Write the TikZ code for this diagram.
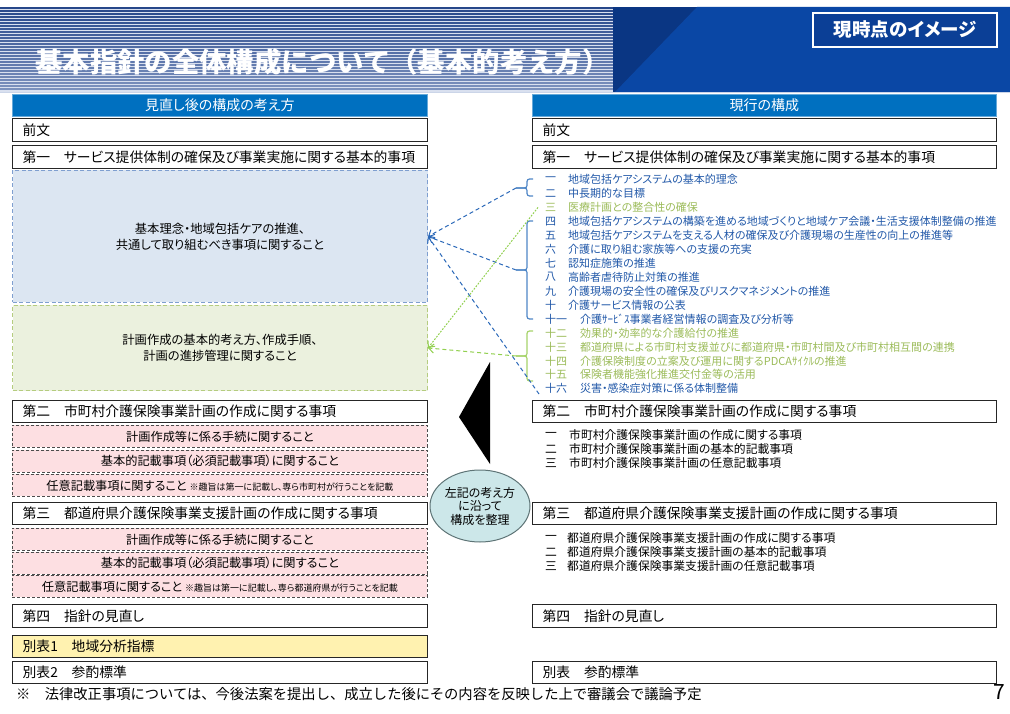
\documentclass[tikz,border=0pt]{standalone}
\usepackage{fontspec}
\setmainfont{Noto Sans CJK JP}[RawFeature=+palt]
\newfontfamily\plainjp{Noto Sans CJK JP}
\usetikzlibrary{arrows.meta,shapes.geometric}
\definecolor{hdrblue}{HTML}{0070C0}
\definecolor{stripedark}{HTML}{27478A}
\definecolor{stripelight}{HTML}{A9B9D9}
\definecolor{stripebg}{HTML}{D9E0EF}
\definecolor{navyA}{HTML}{0A3683}
\definecolor{navyB}{HTML}{0A47A5}
\definecolor{nowbox}{HTML}{0B3F96}
\definecolor{itemblue}{HTML}{2158A8}
\definecolor{itemgreen}{HTML}{9BBB59}
\definecolor{brkblue}{HTML}{4F86C6}
\definecolor{brkgreen}{HTML}{A6D36A}
\definecolor{conblue}{HTML}{2A68B8}
\definecolor{congreen}{HTML}{92D050}
\definecolor{bluefill}{HTML}{DCE6F2}
\definecolor{blueedge}{HTML}{7F9FD0}
\definecolor{greenfill}{HTML}{EBF1DE}
\definecolor{greenedge}{HTML}{B5CC7F}
\definecolor{pinkfill}{HTML}{FDDFE2}
\definecolor{yellowfill}{HTML}{FFF2B0}
\definecolor{ellfill}{HTML}{CCE7E9}
\definecolor{elledge}{HTML}{5E7476}
\newcommand\fsz[2]{\fontsize{#1}{#2}\selectfont}
\begin{document}
\begin{tikzpicture}[x=1pt,y=-1pt,
  colhdr/.style={fill=hdrblue, draw=hdrblue!60!white, line width=0.6pt, text=white, minimum height=22, inner sep=0, anchor=north west, font=\fsz{14}{15}},
  boxL/.style={draw=black!85, line width=1.3pt, fill=white, anchor=north west, minimum height=23, inner xsep=10, inner ysep=0, text width=395pt, align=left, font=\fsz{13.8}{15}},
  boxR/.style={boxL, text width=444pt},
  pinkbox/.style={draw=black!70, line width=0.9pt, dash pattern=on 3pt off 2pt, fill=pinkfill, anchor=north west, minimum width=415, minimum height=22, inner sep=0, font=\fsz{12.2}{13}},
  bluebox/.style={draw=blueedge, line width=1pt, dash pattern=on 4pt off 2.5pt, fill=bluefill, anchor=north west, minimum width=415, inner sep=0, align=center, font=\fsz{12.3}{16}},
  greenbox/.style={bluebox, draw=greenedge, fill=greenfill},
  numnode/.style={anchor=west, inner sep=0, font=\fsz{11}{12}},
  itemnode/.style={anchor=west, inner sep=0, font=\fsz{11}{12}},
  subnode/.style={anchor=west, inner sep=0, font=\fsz{11.8}{12}},
  bbrk/.style={draw=brkblue, line width=1.2pt, rounded corners=2.5pt},
  gbrk/.style={draw=brkgreen, line width=1.2pt, rounded corners=2.5pt},
  bcon/.style={draw=conblue, line width=1pt, dash pattern=on 4pt off 3pt, -{Straight Barb[length=5pt,width=9pt]}},
  gcon/.style={draw=congreen, line width=1pt, dash pattern=on 4pt off 3pt, -{Straight Barb[length=5pt,width=9pt]}},
  gdot/.style={draw=congreen, line width=1pt, dash pattern=on 1.8pt off 1.4pt, -{Straight Barb[length=5pt,width=9pt]}}
]
\useasboundingbox (0,0) rectangle (1010,714);
% ---------- header banner ----------
\fill[stripebg] (0,7) rectangle (613,92);
\foreach \i in {0,...,27}{
  \pgfmathtruncatemacro{\p}{100-2.4*\i}
  \fill[stripedark!\p!stripelight] (0,7+3*\i) rectangle (613,8.7+3*\i);
}
\fill[navyA] (613,7) rectangle (1010,92);
\fill[navyB] (697,7) -- (1010,7) -- (1010,92) -- (615,92) -- cycle;
\fill[stripelight!60!white] (0,92) rectangle (1010,93.5);
\node[anchor=west, text=white, inner sep=0, font=\plainjp\bfseries\fsz{27.4}{30}] (title) at (35,62) {基本指針の全体構成について（基本的考え方）};
\node[draw=white, line width=1.2pt, fill=nowbox, text=white, minimum width=184, minimum height=34, inner sep=0, font=\bfseries\fsz{18.5}{20}] (now) at (905,30) {現時点のイメージ};
% ---------- column headers ----------
\node[colhdr, minimum width=415] (lhdr) at (12,94) {見直し後の構成の考え方};
\node[colhdr, minimum width=464] (rhdr) at (532,94) {現行の構成};
% ---------- left column ----------
\node[boxL] (lpre) at (12,118) {前文};
\node[boxL] (l1) at (12,145) {第一　サービス提供体制の確保及び事業実施に関する基本的事項};
\node[bluebox, minimum height=132] (lblue) at (12,170) {基本理念・地域包括ケアの推進、\\共通して取り組むべき事項に関すること};
\node[greenbox, minimum height=85] (lgreen) at (12,305) {計画作成の基本的考え方、作成手順、\\計画の進捗管理に関すること};
\node[boxL, minimum height=22] (l2) at (12,400) {第二　市町村介護保険事業計画の作成に関する事項};
\node[pinkbox] (p1) at (12,425) {計画作成等に係る手続に関すること};
\node[pinkbox] (p2) at (12,449.5) {基本的記載事項（必須記載事項）に関すること};
\node[pinkbox] (p3) at (12,474) {任意記載事項に関すること {\fsz{9}{10}※趣旨は第一に記載し、専ら市町村が行うことを記載}};
\node[boxL, minimum height=22] (l3) at (12,502) {第三　都道府県介護保険事業支援計画の作成に関する事項};
\node[pinkbox] (p4) at (12,528) {計画作成等に係る手続に関すること};
\node[pinkbox] (p5) at (12,551.5) {基本的記載事項（必須記載事項）に関すること};
\node[pinkbox] (p6) at (12,575) {任意記載事項に関すること {\fsz{9}{10}※趣旨は第一に記載し、専ら都道府県が行うことを記載}};
\node[boxL] (l4) at (12,604) {第四　指針の見直し};
\node[boxL, fill=yellowfill, minimum height=22] (lb1) at (12,634.5) {別表1　地域分析指標};
\node[boxL, minimum height=22] (lb2) at (12,660.5) {別表2　参酌標準};
% ---------- right column ----------
\node[boxR] (rpre) at (532,118) {前文};
\node[boxR] (r1) at (532,145) {第一　サービス提供体制の確保及び事業実施に関する基本的事項};
\foreach \i/\num/\tx/\col/\txt in {
 1/一/568/itemblue/地域包括ケアシステムの基本的理念,
 2/二/568/itemblue/中長期的な目標,
 3/三/568/itemgreen/医療計画との整合性の確保,
 4/四/568/itemblue/地域包括ケアシステムの構築を進める地域づくりと地域ケア会議・生活支援体制整備の推進,
 5/五/568/itemblue/地域包括ケアシステムを支える人材の確保及び介護現場の生産性の向上の推進等,
 6/六/568/itemblue/介護に取り組む家族等への支援の充実,
 7/七/568/itemblue/認知症施策の推進,
 8/八/568/itemblue/高齢者虐待防止対策の推進,
 9/九/568/itemblue/介護現場の安全性の確保及びリスクマネジメントの推進,
 10/十/568/itemblue/介護サービス情報の公表,
 11/十一/580/itemblue/介護ｻｰﾋﾞｽ事業者経営情報の調査及び分析等,
 12/十二/580/itemgreen/効果的・効率的な介護給付の推進,
 13/十三/580/itemgreen/都道府県による市町村支援並びに都道府県・市町村間及び市町村相互間の連携,
 14/十四/580/itemgreen/介護保険制度の立案及び運用に関するPDCAｻｲｸﾙの推進,
 15/十五/580/itemgreen/保険者機能強化推進交付金等の活用,
 16/十六/580/itemblue/災害・感染症対策に係る体制整備}{
  \pgfmathsetmacro{\yy}{179.5+13.95*(\i-1)}
  \node[numnode, text=\col] (n\i) at (545,\yy) {\num};
  \node[itemnode, text=\col] (t\i) at (\tx,\yy) {\txt};
}
\node[boxR, minimum height=22] (r2) at (532,400) {第二　市町村介護保険事業計画の作成に関する事項};
\foreach \i/\num/\txt in {1/一/市町村介護保険事業計画の作成に関する事項, 2/二/市町村介護保険事業計画の基本的記載事項, 3/三/市町村介護保険事業計画の任意記載事項}{
  \pgfmathsetmacro{\yy}{435+14*(\i-1)}
  \node[subnode] (sn\i) at (545,\yy) {\num};
  \node[subnode] (st\i) at (569,\yy) {\txt};
}
\node[boxR, minimum height=22] (r3) at (532,502) {第三　都道府県介護保険事業支援計画の作成に関する事項};
\foreach \i/\num/\txt in {1/一/都道府県介護保険事業支援計画の作成に関する事項, 2/二/都道府県介護保険事業支援計画の基本的記載事項, 3/三/都道府県介護保険事業支援計画の任意記載事項}{
  \pgfmathsetmacro{\yy}{538+14*(\i-1)}
  \node[subnode] (dn\i) at (545,\yy) {\num};
  \node[subnode] (dt\i) at (567,\yy) {\txt};
}
\node[boxR] (r4) at (532,604) {第四　指針の見直し};
\node[boxR, minimum height=22] (rb) at (532,660.5) {別表　参酌標準};
% ---------- brackets ----------
\coordinate (b1) at (516,188);
\coordinate (b2) at (516,270);
\coordinate (b3) at (516,356);
\draw[bbrk] (533,179) -- (527,179) -- (527,188) -- (b1);
\draw[bbrk] (b1) -- (527,188) -- (527,196) -- (533,196);
\draw[bbrk] (533,221) -- (527,221) -- (527,270) -- (b2);
\draw[bbrk] (b2) -- (527,270) -- (527,319) -- (533,319);
\draw[gbrk] (533,331) -- (527,331) -- (527,356) -- (b3);
\draw[gbrk] (b3) -- (527,356) -- (527,381) -- (533,381);
% ---------- connectors ----------
\draw[bcon] (b1) -- (lblue.east);
\draw[bcon] (b2) -- (lblue.east);
\draw[bcon] ([xshift=-6pt]n16.south west) -- (lblue.east);
\draw[gcon] (b3) -- (lgreen.east);
\draw[gdot] ([xshift=-7pt]n3.west) -- (lgreen.east);
% ---------- callout ----------
\fill[black] (490,362) -- (459,417) -- (490,464) -- cycle;
\node[ellipse, draw=elledge, fill=ellfill, line width=1pt, minimum width=100, minimum height=72, inner sep=0, align=center, font=\fsz{12}{13.5}] (ell) at (480,506) {左記の考え方\\に沿って\\構成を整理};
% ---------- footer ----------
\node[anchor=west, inner sep=0, font=\plainjp\fsz{14.3}{15}] (foot) at (16,694) {※　法律改正事項については、今後法案を提出し、成立した後にその内容を反映した上で審議会で議論予定};
\node[inner sep=0, font=\fsz{21}{24}] (page) at (999,692) {7};
\end{tikzpicture}
\end{document}
